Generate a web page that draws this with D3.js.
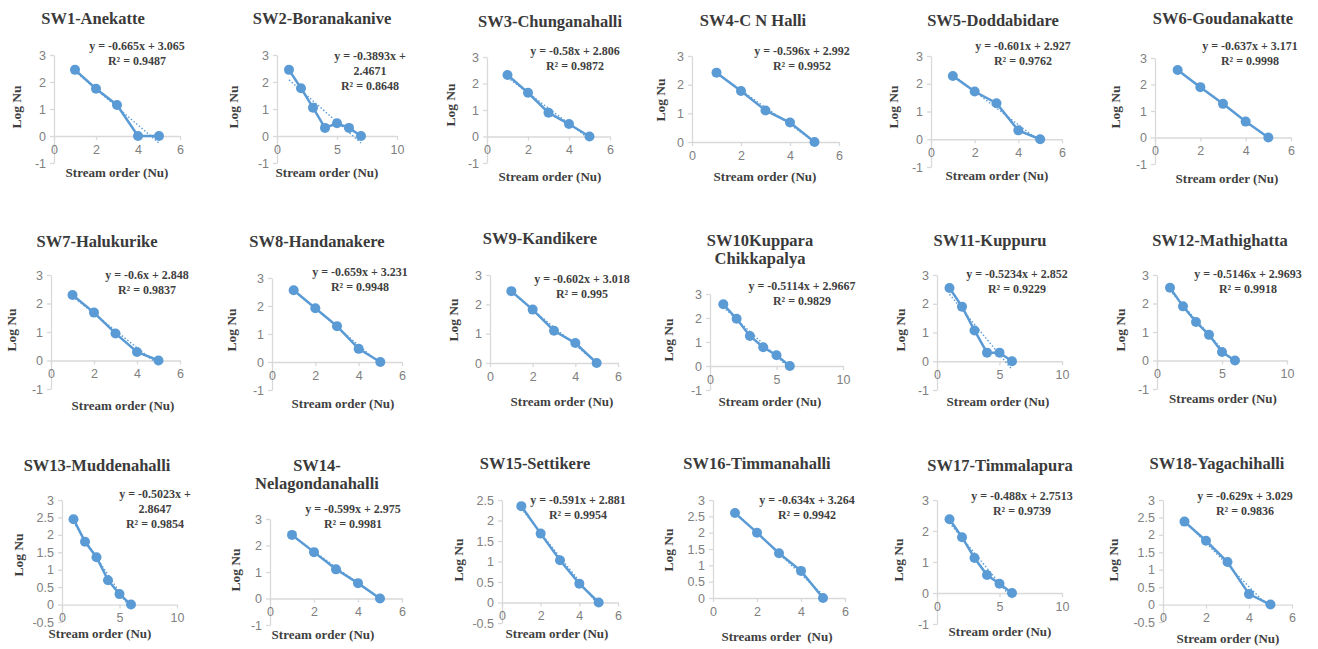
<!DOCTYPE html>
<html><head><meta charset="utf-8">
<script src="https://cdn.jsdelivr.net/npm/d3@7"></script>
<style>body{margin:0;background:#fff}</style>
</head><body><svg id="c" width="1318" height="649"></svg>
<script>
// ---------- DATA ----------
const titles = [
  ["SW1-Anekatte"], ["SW2-Boranakanive"], ["SW3-Chunganahalli"], ["SW4-C N Halli"],
  ["SW5-Doddabidare"], ["SW6-Goudanakatte"], ["SW7-Halukurike"], ["SW8-Handanakere"],
  ["SW9-Kandikere"], ["SW10Kuppara", "Chikkapalya"], ["SW11-Kuppuru"], ["SW12-Mathighatta"],
  ["SW13-Muddenahalli"], ["SW14-", "Nelagondanahalli"], ["SW15-Settikere"], ["SW16-Timmanahalli"],
  ["SW17-Timmalapura"], ["SW18-Yagachihalli"]
];
const xAxisTitles = [
  "Stream order (Nu)", "Stream order (Nu)", "Stream order (Nu)", "Stream order (Nu)",
  "Stream order (Nu)", "Stream order (Nu)", "Stream order (Nu)", "Stream order (Nu)",
  "Stream order (Nu)", "Stream order (Nu)", "Stream order (Nu)", "Streams order (Nu)",
  "Stream order (Nu)", "Stream order (Nu)", "Stream order (Nu)", "Streams order  (Nu)",
  "Stream order (Nu)", "Stream order (Nu)"
];
const yAxisTitle = "Log Nu";
const logNu = [
  [2.45, 1.75, 1.15, 0, 0],
  [2.45, 1.77, 1.05, 0.3, 0.47, 0.3, 0],
  [2.32, 1.65, 0.9, 0.47, 0],
  [2.42, 1.78, 1.1, 0.68, 0],
  [2.28, 1.72, 1.3, 0.32, 0],
  [2.55, 1.9, 1.27, 0.6, 0],
  [2.3, 1.68, 0.95, 0.3, 0],
  [2.56, 1.92, 1.28, 0.47, 0],
  [2.45, 1.82, 1.1, 0.68, 0],
  [2.57, 1.97, 1.25, 0.78, 0.45, 0],
  [2.55, 1.9, 1.07, 0.3, 0.3, 0],
  [2.55, 1.9, 1.35, 0.9, 0.3, 0],
  [2.45, 1.8, 1.36, 0.7, 0.3, 0],
  [2.4, 1.75, 1.1, 0.58, 0],
  [2.35, 1.68, 1.03, 0.46, 0],
  [2.6, 2.0, 1.37, 0.83, 0],
  [2.38, 1.8, 1.13, 0.58, 0.3, 0],
  [2.38, 1.83, 1.22, 0.3, 0]
];
const slopes = [-0.665, -0.3893, -0.58, -0.596, -0.601, -0.637, -0.6, -0.659, -0.602,
  -0.5114, -0.5234, -0.5146, -0.5023, -0.599, -0.591, -0.634, -0.488, -0.629];
const intercepts = [3.065, 2.4671, 2.806, 2.992, 2.927, 3.171, 2.848, 3.231, 3.018,
  2.9667, 2.852, 2.9693, 2.8647, 2.975, 2.881, 3.264, 2.7513, 3.029];
const rSquared = [0.9487, 0.8648, 0.9872, 0.9952, 0.9762, 0.9998, 0.9837, 0.9948, 0.995,
  0.9829, 0.9229, 0.9918, 0.9854, 0.9981, 0.9954, 0.9942, 0.9739, 0.9836];
const xMaxes = [6, 10, 6, 6, 6, 6, 6, 6, 6, 10, 10, 10, 10, 6, 6, 6, 10, 6];
const xSteps = [2, 5, 2, 2, 2, 2, 2, 2, 2, 5, 5, 5, 5, 2, 2, 2, 5, 2];
const yMins = [-1, -1, -1, 0, -1, -1, -1, -1, 0, -1, -1, -1, -0.5, -1, -0.5, 0, -1, -0.5];
const yMaxes = [3, 3, 3, 3, 3, 3, 3, 3, 3, 3, 3, 3, 3, 3, 2.5, 3, 3, 3];
const ySteps = [1, 1, 1, 1, 1, 1, 1, 1, 1, 1, 1, 1, 0.5, 1, 0.5, 0.5, 1, 0.5];

// ---------- LAYOUT (pixel positions per panel) ----------
const layout = [
  {px0: 54, px1: 180, top: 55, bot: 163, tx: 93, ty: 20, ex: 137, ey: 47, wrap: false, xtx: 117, xty: 174, ytx: 18, yty: 107},
  {px0: 277, px1: 397, top: 55, bot: 163, tx: 322, ty: 20, ex: 370, ey: 57, wrap: true, xtx: 327, xty: 174, ytx: 235, yty: 107},
  {px0: 487, px1: 610, top: 57, bot: 163, tx: 550, ty: 23, ex: 575, ey: 52, wrap: false, xtx: 550, xty: 178, ytx: 452, yty: 105},
  {px0: 692, px1: 839, top: 56, bot: 142, tx: 753, ty: 22, ex: 802, ey: 52, wrap: false, xtx: 765, xty: 178, ytx: 662, yty: 100},
  {px0: 931, px1: 1062, top: 56, bot: 167, tx: 993, ty: 22, ex: 1023, ey: 47, wrap: false, xtx: 997, xty: 177, ytx: 895, yty: 107},
  {px0: 1155, px1: 1291, top: 58, bot: 164, tx: 1223, ty: 20, ex: 1250, ey: 47, wrap: false, xtx: 1227, xty: 180, ytx: 1117, yty: 107},
  {px0: 51, px1: 180, top: 275, bot: 389, tx: 97, ty: 243, ex: 147, ey: 276, wrap: false, xtx: 123, xty: 407, ytx: 13, yty: 330},
  {px0: 272, px1: 402, top: 278, bot: 390, tx: 317, ty: 243, ex: 360, ey: 273, wrap: false, xtx: 343, xty: 405, ytx: 233, yty: 330},
  {px0: 490, px1: 618, top: 275, bot: 363, tx: 540, ty: 240, ex: 582, ey: 280, wrap: false, xtx: 562, xty: 403, ytx: 455, yty: 320},
  {px0: 710, px1: 843, top: 294, bot: 390, tx: 760, ty: 242, ex: 802, ey: 287, wrap: false, xtx: 770, xty: 403, ytx: 670, yty: 340},
  {px0: 937, px1: 1062, top: 275, bot: 390, tx: 990, ty: 242, ex: 1017, ey: 275, wrap: false, xtx: 998, xty: 403, ytx: 902, yty: 330},
  {px0: 1157, px1: 1287, top: 275, bot: 389, tx: 1220, ty: 242, ex: 1248, ey: 275, wrap: false, xtx: 1223, xty: 400, ytx: 1122, yty: 330},
  {px0: 62, px1: 177, top: 500, bot: 622, tx: 97, ty: 467, ex: 155, ey: 495, wrap: true, xtx: 100, xty: 635, ytx: 20, yty: 555},
  {px0: 270, px1: 402, top: 519, bot: 625, tx: 317, ty: 467, ex: 353, ey: 510, wrap: false, xtx: 323, xty: 636, ytx: 237, yty: 570},
  {px0: 502, px1: 618, top: 500, bot: 623, tx: 535, ty: 465, ex: 578, ey: 501, wrap: false, xtx: 557, xty: 635, ytx: 460, yty: 560},
  {px0: 713, px1: 845, top: 500, bot: 598, tx: 757, ty: 465, ex: 807, ey: 501, wrap: false, xtx: 777, xty: 638, ytx: 670, yty: 550},
  {px0: 937, px1: 1062, top: 500, bot: 624, tx: 1000, ty: 467, ex: 1022, ey: 497, wrap: false, xtx: 1000, xty: 633, ytx: 900, yty: 560},
  {px0: 1163, px1: 1292, top: 500, bot: 622, tx: 1217, ty: 465, ex: 1245, ey: 497, wrap: false, xtx: 1228, xty: 640, ytx: 1115, yty: 560}
];

const BLUE = "#5b9bd5";
const SERIF = "'Liberation Serif','Times New Roman',serif";
const SANS = "'Liberation Sans',Arial,sans-serif";
const svg = d3.select("#c");

function ticks(a, b, s) {
  const n = Math.round((b - a) / s);
  return d3.range(n + 1).map(k => +(a + k * s).toFixed(2));
}

titles.forEach((t, i) => {
  const L = layout[i];
  const g = svg.append("g");
  const x = d3.scaleLinear().domain([0, xMaxes[i]]).range([L.px0, L.px1]);
  const y = d3.scaleLinear().domain([yMins[i], yMaxes[i]]).range([L.bot, L.top]);
  const fmt = d => (d === 0 ? "0" : String(d));

  const ya = g.append("g").attr("transform", `translate(${x(0)},0)`)
    .call(d3.axisLeft(y).tickValues(ticks(yMins[i], yMaxes[i], ySteps[i])).tickSize(4).tickSizeOuter(0).tickPadding(4).tickFormat(fmt));
  const xa = g.append("g").attr("transform", `translate(0,${y(0)})`)
    .call(d3.axisBottom(x).tickValues(ticks(0, xMaxes[i], xSteps[i])).tickSize(4).tickSizeOuter(0).tickPadding(5).tickFormat(fmt));
  [ya, xa].forEach(a => {
    a.select(".domain").attr("stroke", "#d9d9d9").attr("stroke-width", 1.3);
    a.selectAll(".tick line").attr("stroke", "#d9d9d9").attr("stroke-width", 1.3);
    a.selectAll(".tick text").attr("fill", "#808080").style("font-family", SANS).style("font-size", "12.5px");
  });

  const pts = logNu[i].map((v, k) => [k + 1, v]);
  const line = d3.line().x(d => x(d[0])).y(d => y(d[1]));

  g.append("path").datum(pts).attr("d", line).attr("fill", "none")
    .attr("stroke", BLUE).attr("stroke-width", 2.5);
  const x0 = pts[0][0], x1 = pts[pts.length - 1][0];
  g.append("path").datum([[x0, slopes[i] * x0 + intercepts[i]], [x1, slopes[i] * x1 + intercepts[i]]])
    .attr("d", line).attr("fill", "none").attr("stroke", BLUE).attr("stroke-width", 1.4)
    .attr("stroke-dasharray", "1.5,2");
  g.selectAll("circle").data(pts).join("circle")
    .attr("cx", d => x(d[0])).attr("cy", d => y(d[1])).attr("r", 5).attr("fill", BLUE);

  t.forEach((s, k) => {
    g.append("text").attr("x", L.tx).attr("y", L.ty + k * 18).attr("text-anchor", "middle")
      .attr("dominant-baseline", "middle").attr("fill", "#3a3a3a")
      .style("font-family", SERIF).style("font-weight", "bold").style("font-size", "16.5px").text(s);
  });

  const eq = `y = ${slopes[i]}x + ${intercepts[i]}`;
  const lines = L.wrap ? [`y = ${slopes[i]}x +`, `${intercepts[i]}`] : [eq];
  lines.push(`R² = ${rSquared[i]}`);
  lines.forEach((s, k) => {
    g.append("text").attr("x", L.ex).attr("y", L.ey + k * 15).attr("text-anchor", "middle")
      .attr("dominant-baseline", "middle").attr("fill", "#3f3f3f")
      .style("font-family", SERIF).style("font-weight", "bold").style("font-size", "12px").text(s);
  });

  g.append("text").attr("x", L.xtx).attr("y", L.xty).attr("text-anchor", "middle")
    .attr("dominant-baseline", "middle").attr("fill", "#3f3f3f")
    .style("font-family", SERIF).style("font-weight", "bold").style("font-size", "13px")
    .style("white-space", "pre").text(xAxisTitles[i]);
  g.append("text").attr("transform", `translate(${L.ytx},${L.yty}) rotate(-90)`).attr("text-anchor", "middle")
    .attr("dominant-baseline", "middle").attr("fill", "#3f3f3f")
    .style("font-family", SERIF).style("font-weight", "bold").style("font-size", "13.5px").text(yAxisTitle);
});
</script></body></html>
